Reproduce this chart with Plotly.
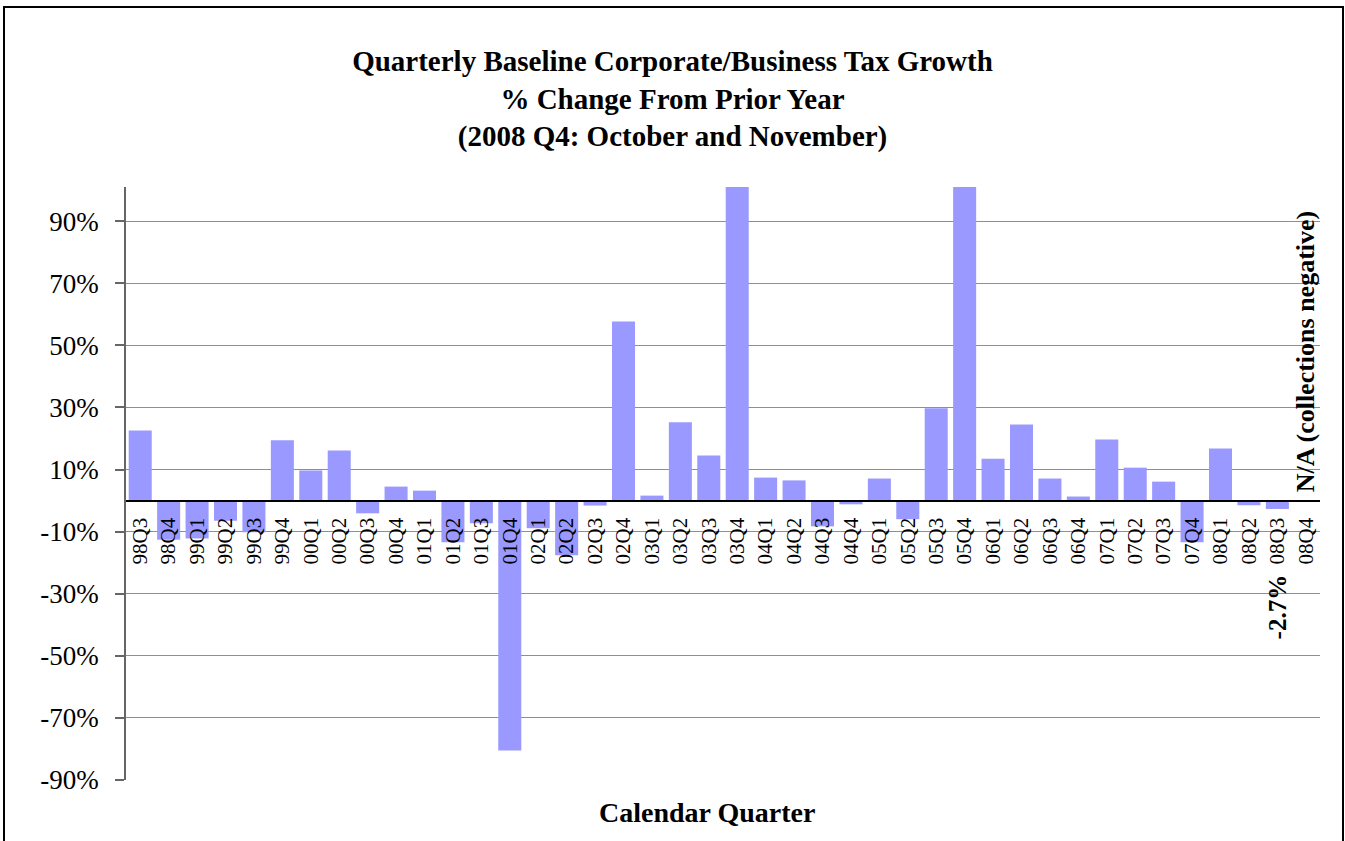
import plotly.graph_objects as go

# ---- data (percent change from prior year) ----
quarters = ["98Q3", "98Q4",
            "99Q1", "99Q2", "99Q3", "99Q4",
            "00Q1", "00Q2", "00Q3", "00Q4",
            "01Q1", "01Q2", "01Q3", "01Q4",
            "02Q1", "02Q2", "02Q3", "02Q4",
            "03Q1", "03Q2", "03Q3", "03Q4",
            "04Q1", "04Q2", "04Q3", "04Q4",
            "05Q1", "05Q2", "05Q3", "05Q4",
            "06Q1", "06Q2", "06Q3", "06Q4",
            "07Q1", "07Q2", "07Q3", "07Q4",
            "08Q1", "08Q2", "08Q3", "08Q4"]
growth = [22.6, -12.6,
          -12.2, -6.5, -10.2, 19.4,
          9.7, 16.1, -4.1, 4.5,
          3.2, -13.4, -7.3, -80.5,
          -8.9, -17.6, -1.6, 57.7,
          1.6, 25.2, 14.5, 130.0,
          7.4, 6.5, -8.3, -1.2,
          7.1, -6.0, 29.7, 120.0,
          13.5, 24.5, 7.1, 1.3,
          19.7, 10.6, 6.1, -13.4,
          16.8, -1.5, -2.7, None]
ytick_vals = [-90, -70, -50, -30, -10, 10, 30, 50, 70, 90]
y_min, y_max = -90, 101

title_lines = ["Quarterly Baseline Corporate/Business Tax Growth",
               "% Change From Prior Year",
               "(2008 Q4: October and November)"]
x_title = "Calendar Quarter"
na_note = "N/A (collections negative)"
last_label = "-2.7%"

# ---- layout geometry ----
W, H = 1345, 841
ML, MR, MT, MB = 126, 25, 187, 61
PW, PH = W - ML - MR, H - MT - MB
FONT = "Liberation Serif, Times New Roman, serif"

def px_x(x):  # pixel -> paper x
    return (x - ML) / PW

def px_y(y):  # pixel -> paper y
    return (H - MB - y) / PH

fig = go.Figure()
fig.add_trace(go.Bar(
    x=quarters, y=growth,
    marker=dict(color="#9999FF", line=dict(width=0)),
    hoverinfo="x+y",
))

zero_pos = (0 - y_min) / (y_max - y_min)

fig.update_layout(
    width=W, height=H,
    margin=dict(l=ML, r=MR, t=MT, b=MB, autoexpand=False),
    paper_bgcolor="white", plot_bgcolor="white",
    bargap=0.19,
    showlegend=False,
    font=dict(family=FONT, color="black"),
    title=dict(
        text="<b>" + "<br>".join(title_lines) + "</b>",
        x=0.5, xref="container", xanchor="center",
        y=1 - 71 / H, yref="container", yanchor="middle",
        font=dict(family=FONT, size=29, color="black"),
    ),
    xaxis=dict(
        type="category",
        anchor="free", position=zero_pos,
        showline=True, linecolor="black", linewidth=1.5,
        showgrid=False, zeroline=False,
        ticks="", tickangle=-90,
        ticklabelstandoff=8,
        tickfont=dict(family=FONT, size=21, color="black"),
        range=[-0.5, len(quarters) - 0.5],
    ),
    yaxis=dict(
        range=[y_min, y_max],
        tickmode="array", tickvals=ytick_vals,
        ticktext=[f"{v}%" for v in ytick_vals],
        showgrid=True, gridcolor="#8f8f8f", gridwidth=1,
        zeroline=False,
        showline=True, linecolor="#666666", linewidth=1.5,
        ticks="outside", ticklen=9, tickcolor="#666666", tickwidth=1.5,
        ticklabelstandoff=11,
        tickfont=dict(family=FONT, size=27, color="black"),
    ),
)

fig.add_annotation(
    text="<b>" + x_title + "</b>",
    xref="paper", yref="paper",
    x=px_x(707), y=px_y(812), xanchor="center", yanchor="middle",
    showarrow=False, font=dict(family=FONT, size=28, color="black"),
)
fig.add_annotation(
    text="<b>" + na_note + "</b>",
    x=quarters[-1], y=0, xref="x", yref="y",
    xanchor="center", yanchor="bottom", yshift=6,
    textangle=-90, showarrow=False,
    font=dict(family=FONT, size=26, color="black"),
)
fig.add_annotation(
    text="<b>" + last_label + "</b>",
    x=quarters[-2], y=0, xref="x", yref="y",
    xanchor="center", yanchor="top", yshift=-72,
    textangle=-90, showarrow=False,
    font=dict(family=FONT, size=25, color="black"),
)

# outer chart border
fig.add_shape(
    type="rect", xref="paper", yref="paper",
    x0=px_x(4), x1=px_x(1343), y0=px_y(860), y1=px_y(7),
    line=dict(color="black", width=2), fillcolor="rgba(0,0,0,0)",
    layer="above",
)

fig.write_html("out.html",
               config={"displayModeBar": False},
               post_script="document.body.style.margin='0';")
